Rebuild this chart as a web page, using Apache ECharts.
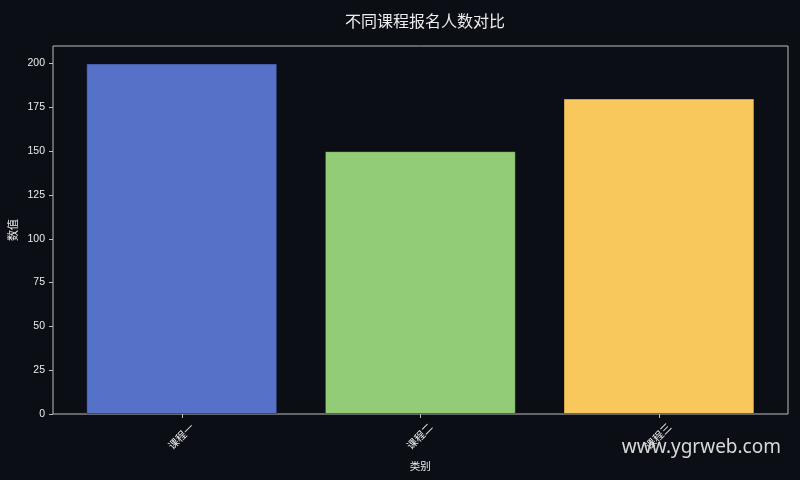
<!DOCTYPE html>
<html>
<head>
<meta charset="utf-8">
<script src="https://cdn.jsdelivr.net/npm/echarts@6/dist/echarts.min.js"></script>
<style>
html,body{margin:0;padding:0;background:#0b0e15;}
#c{width:800px;height:480px;}
</style>
</head>
<body>
<div id="c"></div>
<script>
const categories = ['课程一', '课程二', '课程三'];
const values = [200, 150, 180];
const barColors = ['#5571c8', '#93cc76', '#f9c85c'];
const yTicks = [0, 25, 50, 75, 100, 125, 150, 175, 200];
const titleText = '不同课程报名人数对比';
const xName = '类别';
const yName = '数值';
const watermark = 'www.ygrweb.com';

const textColor = '#ececec';
const frameColor = '#bdbdbd';
const cjk = 'Liberation Sans, "Noto Sans CJK SC", sans-serif';

const chart = echarts.init(document.getElementById('c'));
chart.setOption({
  backgroundColor: '#0b0e15',
  animation: false,
  title: {
    text: titleText,
    left: 420,
    top: 8,
    textAlign: 'center',
    textStyle: { color: textColor, fontSize: 16, fontWeight: 'normal', fontFamily: '"Noto Sans CJK SC", sans-serif' }
  },
  grid: [
    { left: 53, right: 12, top: 46, bottom: 66, show: true, borderColor: frameColor, borderWidth: 1, backgroundColor: 'transparent', containLabel: false, outerBoundsMode: 'none' },
    { left: 62.45, right: 21.75, top: 46, bottom: 66, containLabel: false, outerBoundsMode: 'none' }
  ],
  xAxis: [
    { type: 'value', gridIndex: 0, min: 0, max: 1, show: false },
    {
      type: 'category', gridIndex: 1, data: categories, boundaryGap: true,
      axisLine: { show: false },
      axisTick: { show: true, alignWithLabel: true, length: 4, lineStyle: { color: frameColor } },
      axisLabel: { rotate: 45, align: 'center', verticalAlign: 'middle', margin: 23, color: textColor, fontSize: 10.5, fontFamily: cjk },
      name: xName, nameLocation: 'middle', nameGap: 48, nameMoveOverlap: false,
      nameTextStyle: { color: textColor, fontSize: 10.5, fontFamily: cjk }
    }
  ],
  yAxis: [
    {
      type: 'value', gridIndex: 0, min: 0, max: 210,
      splitLine: { show: false },
      axisLine: { show: false },
      axisTick: { show: true, length: 4, customValues: yTicks, lineStyle: { color: frameColor } },
      axisLabel: { customValues: yTicks, color: textColor, fontSize: 10.5, margin: 8, fontFamily: cjk },
      name: yName, nameLocation: 'middle', nameGap: 34, nameRotate: 90, nameMoveOverlap: false,
      nameTextStyle: { color: textColor, fontSize: 11, fontFamily: cjk }
    },
    { type: 'value', gridIndex: 1, min: 0, max: 210, show: false }
  ],
  series: [{
    type: 'bar',
    xAxisIndex: 1, yAxisIndex: 1,
    barWidth: '80%',
    data: values.map((v, i) => ({
      value: v,
      itemStyle: { color: barColors[i], borderColor: 'rgba(10,14,30,0.35)', borderWidth: 1 }
    }))
  }],
  graphic: [{
    type: 'text',
    right: 19,
    top: 438,
    style: { text: watermark, fill: '#d9d9d9', fontSize: 19, fontFamily: '"Noto Sans", sans-serif' },
    z: 100
  }]
});
</script>
</body>
</html>
